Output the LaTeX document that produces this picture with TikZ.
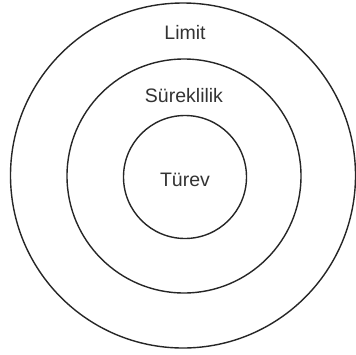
\documentclass[tikz,border=0pt]{standalone}
\usepackage{fontspec}
\setmainfont{Liberation Sans}
\begin{document}
\begin{tikzpicture}[x=1pt,y=-1pt,
  ring/.style={draw=black!85, line width=1.4pt},
  lbl/.style={font=\fontsize{19.5}{22}\selectfont, text=black!80, inner sep=0pt}]
\useasboundingbox (0,0) rectangle (356,354);
\fill[white] (0,0) rectangle (356,354);
\coordinate (c1) at (183,175.5);
\coordinate (c2) at (184,176);
\coordinate (c3) at (185,177);
\draw[ring] (c1) circle[radius=172.5];
\draw[ring] (c2) circle[radius=117];
\draw[ring] (c3) circle[radius=61.5];
\node[lbl] (limit) at (185,33) {Limit};
\node[lbl] (sure) at (184,96) {Süreklilik};
\node[lbl] (turev) at (185,180) {Türev};
\end{tikzpicture}
\end{document}
